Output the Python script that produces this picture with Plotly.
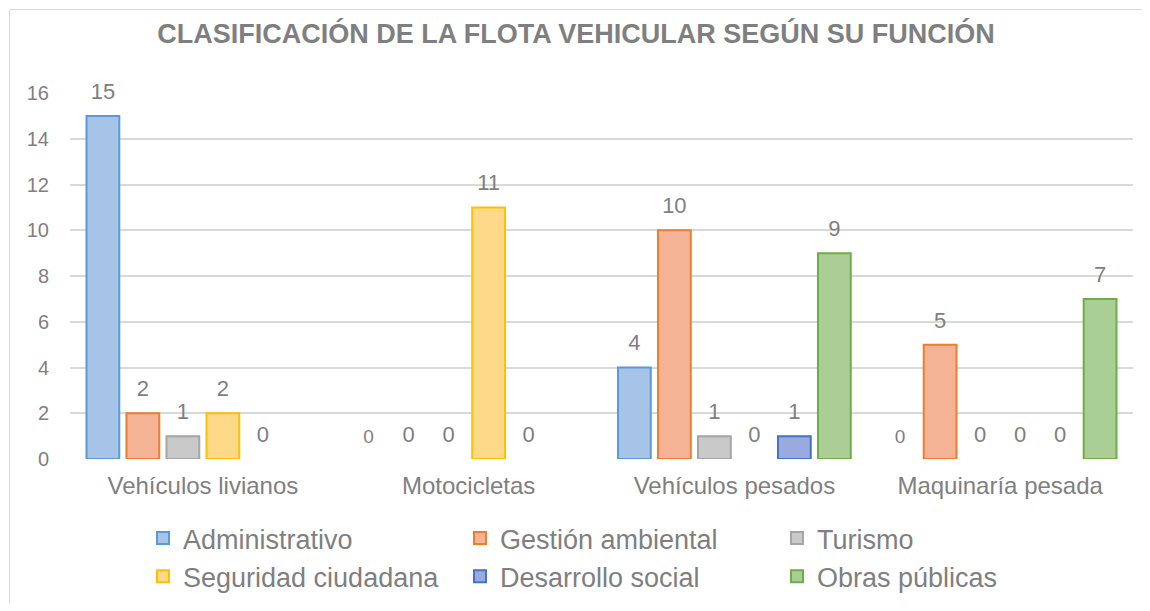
import plotly.graph_objects as go

categories = ["Vehículos livianos", "Motocicletas", "Vehículos pesados", "Maquinaría pesada"]
series_names = ["Administrativo", "Gestión ambiental", "Turismo",
                "Seguridad ciudadana", "Desarrollo social", "Obras públicas"]
administrativo = [15, 0, 4, 0]
gestion_ambiental = [2, 0, 10, 5]
turismo = [1, 0, 1, 0]
seguridad_ciudadana = [2, 11, 0, 0]
desarrollo_social = [0, 0, 1, 0]
obras_publicas = [None, None, 9, 7]
y_ticks = [0, 2, 4, 6, 8, 10, 12, 14, 16]
title_text = "CLASIFICACIÓN DE LA FLOTA VEHICULAR SEGÚN SU FUNCIÓN"

series_values = [administrativo, gestion_ambiental, turismo,
                 seguridad_ciudadana, desarrollo_social, obras_publicas]
fills = ["#a6c3e8", "#f5b395", "#c9c9c9", "#ffd98a", "#98aade", "#abce95"]
lines = ["#5b9bd5", "#ed7d31", "#a5a5a5", "#ffc000", "#4472c4", "#70ad47"]
label_sizes = [[22, 19, 22, 19]] + [[22, 22, 22, 22]] * 5

FONT = "Liberation Sans, Arial, sans-serif"
GRAY = "#7f7f7f"

OFF = 8  # page body margin
W, H = 1150 - 2 * OFF, 611 - 2 * OFF
L, T = 70 - OFF, 93 - OFF
R = W - (1133 - OFF)
B = H - (459 - OFF)
pw, ph = W - L - R, H - T - B

def px2x(px):
    return (px - OFF - L) / pw

def py2y(py):
    return (H - B - (py - OFF)) / ph

fig = go.Figure()
for name, vals, fc, lc in zip(series_names, series_values, fills, lines):
    # zero-height bars are not drawn (no outline), their labels still show 0
    bar_vals = [v if v else None for v in vals]
    fig.add_trace(go.Bar(
        name=name, x=categories, y=bar_vals,
        marker=dict(color=fc, line=dict(color=lc, width=2)),
        offsetgroup=name, hoverinfo="skip",
    ))
for name, vals, sizes in zip(series_names, series_values, label_sizes):
    fig.add_trace(go.Scatter(
        x=categories, y=vals, mode="markers+text",
        text=[("" if v is None else str(v)) for v in vals],
        textposition="top center",
        textfont=dict(family=FONT, size=sizes, color=GRAY),
        marker=dict(size=17, color="rgba(0,0,0,0)"),
        offsetgroup=name, showlegend=False, hoverinfo="skip", cliponaxis=False,
    ))

fig.update_layout(
    width=W, height=H,
    margin=dict(l=L, r=R, t=T, b=B, autoexpand=False),
    paper_bgcolor="white", plot_bgcolor="white",
    barmode="group", bargap=0.097, bargroupgap=0.18,
    scattermode="group", scattergap=0.097,
    font=dict(family=FONT, color=GRAY),
    title=dict(text="<b>" + title_text + "</b>", x=(576 - OFF) / W, xref="container", xanchor="center",
               y=1 - (34 - OFF) / H, yref="container", yanchor="middle",
               font=dict(family=FONT, size=27, color=GRAY)),
    xaxis=dict(type="category", showgrid=False, showline=False, zeroline=False,
               ticks="", tickfont=dict(size=24, color=GRAY), ticklabelstandoff=10),
    yaxis=dict(range=[0, 16], tickvals=y_ticks, showgrid=True, gridcolor="#d9d9d9",
               gridwidth=1.5, zeroline=False, showline=False, ticks="",
               tickfont=dict(size=20, color=GRAY), ticklabelstandoff=20),
    legend=dict(orientation="h", x=px2x(143), xanchor="left", y=py2y(514), yanchor="top",
                font=dict(size=27, color=GRAY), entrywidth=272, entrywidthmode="pixels",
                itemwidth=30, traceorder="normal", bgcolor="rgba(0,0,0,0)"),
    showlegend=True,
    shapes=[dict(type="rect", xref="paper", yref="paper",
                 x0=px2x(9.5), x1=px2x(1170), y0=py2y(640), y1=py2y(9.5),
                 line=dict(color="#d9d9d9", width=1), fillcolor="rgba(0,0,0,0)", layer="below")],
)

fig.write_html("out.html")
